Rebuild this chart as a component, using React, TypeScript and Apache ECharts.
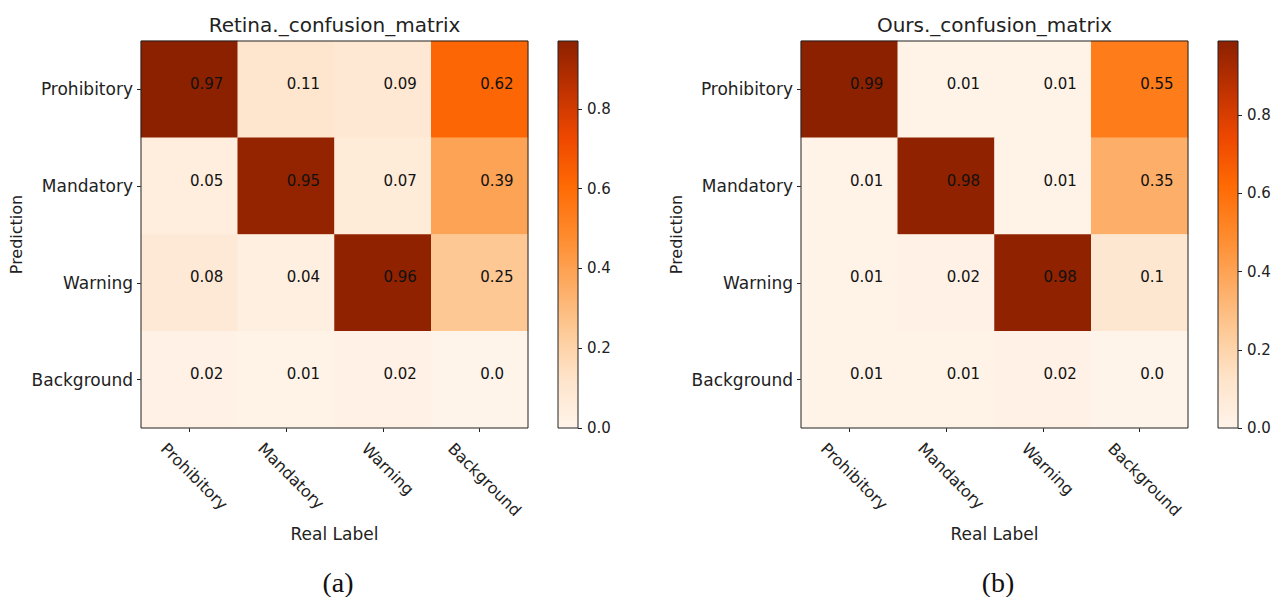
import React, { useEffect, useRef } from 'react';
import * as echarts from 'echarts';

// Class names shared by both axes (real label / prediction)
const classNames = ['Prohibitory', 'Mandatory', 'Warning', 'Background'];

// Rows = prediction, columns = real label
const retinaMatrix = [
  [0.97, 0.11, 0.09, 0.62],
  [0.05, 0.95, 0.07, 0.39],
  [0.08, 0.04, 0.96, 0.25],
  [0.02, 0.01, 0.02, 0.0],
];
const oursMatrix = [
  [0.99, 0.01, 0.01, 0.55],
  [0.01, 0.98, 0.01, 0.35],
  [0.01, 0.02, 0.98, 0.1],
  [0.01, 0.01, 0.02, 0.0],
];

const panelTitles = ['Retina._confusion_matrix', 'Ours._confusion_matrix'];
const panelCaptions = ['(a)', '(b)'];
const colorbarTicks = [0, 0.2, 0.4, 0.6, 0.8];

// Orange colour ramp, low -> high
const orangeRamp = [
  '#fff4ea',
  '#fee4cb',
  '#fdca97',
  '#fdaa60',
  '#fe8a2c',
  '#ff6a04',
  '#ee4800',
  '#bf3200',
  '#8c2100',
];

const FONT = '"DejaVu Sans", "Noto Sans", sans-serif';
const TEXT = '#222';
const VALUE_FS = 15;
const XTICK_FS = 16;
const YTICK_FS = 17;
const NAME_FS = 17;
const TITLE_FS = 20;
const ROT_LINE = 19;

const measure = (s: string, size: number) => {
  const ctx = document.createElement('canvas').getContext('2d');
  if (!ctx) return s.length * size * 0.6;
  ctx.font = `${size}px "DejaVu Sans"`;
  return ctx.measureText(s).width;
};

const fmtValue = (v: number) => (Number.isInteger(v) ? v.toFixed(1) : String(v));

export default function App() {
  const ref = useRef<HTMLDivElement>(null);

  useEffect(() => {
    if (!ref.current) return;
    const chart = echarts.init(ref.current, undefined, { renderer: 'svg' });

    const plotLefts = [141, 801];
    const plotTop = 41;
    const plotSize = 387;
    const cbarGap = 30;
    const cbarWidth = 20;

    // Rotated x labels: pad each label so its rotated box hangs just under the tick
    const rich: Record<string, any> = {};
    classNames.forEach((name, i) => {
      const L = measure(name, XTICK_FS);
      const p = 0.5 * (L + ROT_LINE);
      rich['r' + i] = {
        fontSize: XTICK_FS,
        fontFamily: FONT,
        color: TEXT,
        lineHeight: ROT_LINE,
        padding: [p - 7, 0, 0, p + 7],
      };
    });

    const grid: any[] = [];
    const xAxis: any[] = [];
    const yAxis: any[] = [];
    const series: any[] = [];
    const visualMap: any[] = [];
    const title: any[] = [];
    const graphic: any[] = [];

    [retinaMatrix, oursMatrix].forEach((matrix, k) => {
      const vmax = Math.max(...matrix.flat());
      const left = plotLefts[k];
      const centerX = left + plotSize / 2;

      title.push({
        text: panelTitles[k],
        left: centerX,
        top: 15,
        textAlign: 'center',
        padding: 0,
        textStyle: { fontSize: TITLE_FS, fontWeight: 'normal', color: TEXT, fontFamily: FONT },
      });

      // heatmap grid
      grid.push({
        left,
        top: plotTop,
        width: plotSize,
        height: plotSize,
        show: true,
        z: 10,
        backgroundColor: 'transparent',
        borderColor: TEXT,
        borderWidth: 1,
      });
      // colorbar grid
      grid.push({
        left: left + plotSize + cbarGap,
        top: plotTop,
        width: cbarWidth,
        height: plotSize,
        show: true,
        z: 10,
        backgroundColor: 'transparent',
        borderColor: TEXT,
        borderWidth: 1,
      });

      const gHeat = k * 2;
      const gBar = k * 2 + 1;

      xAxis.push({
        type: 'category',
        gridIndex: gHeat,
        data: classNames,
        axisLine: { show: false },
        axisTick: { show: true, alignWithLabel: true, length: 4, lineStyle: { color: TEXT } },
        splitLine: { show: false },
        axisLabel: {
          interval: 0,
          rotate: -45,
          align: 'center',
          verticalAlign: 'middle',
          margin: 11,
          formatter: (v: string, i: number) => `{r${i}|${v}}`,
          rich,
        },
        name: 'Real Label',
        nameLocation: 'middle',
        nameGap: 94,
        nameTextStyle: { fontSize: NAME_FS, color: TEXT, fontFamily: FONT },
      });
      xAxis.push({
        type: 'category',
        gridIndex: gBar,
        data: [''],
        show: false,
      });

      yAxis.push({
        type: 'category',
        gridIndex: gHeat,
        data: classNames,
        inverse: true,
        axisLine: { show: false },
        axisTick: { show: true, alignWithLabel: true, length: 4, lineStyle: { color: TEXT } },
        splitLine: { show: false },
        axisLabel: { margin: 8, fontSize: YTICK_FS, color: TEXT, fontFamily: FONT },
        name: 'Prediction',
        nameLocation: 'middle',
        nameRotate: 90,
        nameGap: 117,
        nameTextStyle: { fontSize: 16, color: TEXT, fontFamily: FONT },
      });
      yAxis.push({
        type: 'value',
        gridIndex: gBar,
        position: 'right',
        min: 0,
        max: vmax,
        axisLine: { show: false },
        splitLine: { show: false },
        axisTick: {
          show: true,
          length: 4,
          customValues: colorbarTicks,
          lineStyle: { color: TEXT },
        },
        axisLabel: {
          customValues: colorbarTicks,
          margin: 9,
          fontSize: VALUE_FS,
          color: TEXT,
          fontFamily: FONT,
          formatter: (v: number) => v.toFixed(1),
        },
      });

      const heatIndex = series.length;
      const data: number[][] = [];
      matrix.forEach((row, r) => row.forEach((v, c) => data.push([c, r, v])));
      series.push({
        type: 'heatmap',
        xAxisIndex: gHeat,
        yAxisIndex: gHeat,
        data,
        itemStyle: { borderWidth: 0 },
        emphasis: { disabled: true },
        label: {
          show: true,
          align: 'left',
          verticalAlign: 'middle',
          offset: [0.5, -5.5],
          fontSize: VALUE_FS,
          fontFamily: FONT,
          color: '#111',
          formatter: (p: any) => fmtValue(p.value[2]),
        },
      });
      visualMap.push({
        type: 'continuous',
        show: false,
        seriesIndex: heatIndex,
        dimension: 2,
        min: 0,
        max: vmax,
        inRange: { color: orangeRamp },
      });

      // colour bar: one bar from 0 to the matrix maximum, filled with the ramp
      const stops = orangeRamp
        .map((c, i) => ({ offset: 1 - i / (orangeRamp.length - 1), color: c }))
        .reverse();
      series.push({
        type: 'bar',
        xAxisIndex: gBar,
        yAxisIndex: gBar,
        data: [vmax],
        barWidth: '100%',
        barCategoryGap: 0,
        silent: true,
        emphasis: { disabled: true },
        itemStyle: { color: new echarts.graphic.LinearGradient(0, 0, 0, 1, stops) },
      });

      graphic.push({
        type: 'text',
        x: centerX + 3.5,
        y: 582,
        style: {
          text: panelCaptions[k],
          font: '28px "Liberation Serif", "DejaVu Serif", serif',
          fill: '#111',
          align: 'center',
          verticalAlign: 'middle',
        },
      });
    });

    chart.setOption({
      animation: false,
      backgroundColor: '#fff',
      title,
      grid,
      xAxis,
      yAxis,
      visualMap,
      series,
      graphic,
    });

    return () => chart.dispose();
  }, []);

  return (
    <div
      ref={ref}
      style={{ position: 'fixed', left: 0, top: 0, width: 1284, height: 597, background: '#fff' }}
    />
  );
}
